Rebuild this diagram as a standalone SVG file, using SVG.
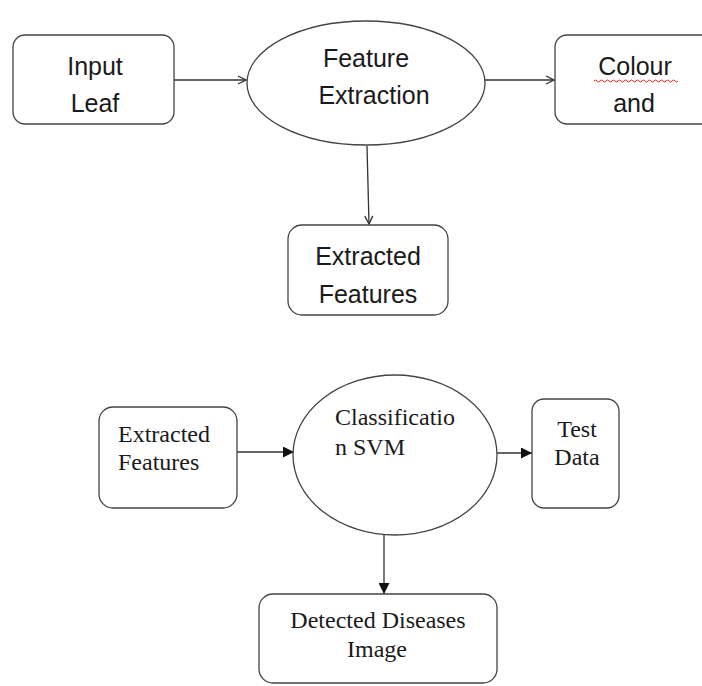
<svg xmlns="http://www.w3.org/2000/svg" width="702" height="686" viewBox="0 0 702 686">
  <style>
    .shape { fill: #ffffff; stroke: #444444; stroke-width: 1.3; }
    .link { fill: none; stroke: #333333; stroke-width: 1.3; }
    .sans { font-family: "Liberation Sans", Arial, sans-serif; font-size: 25px; fill: #1a1a1a; }
    .serif { font-family: "Liberation Serif", "Times New Roman", serif; font-size: 24px; fill: #1a1a1a; }
    .mid { text-anchor: middle; }
  </style>
  <defs>
    <marker id="open" viewBox="0 0 10 10" refX="9" refY="5" markerWidth="10" markerHeight="10" markerUnits="userSpaceOnUse" orient="auto">
      <path d="M1,1 L9,5 L1,9" fill="none" stroke="#333333" stroke-width="1.3"/>
    </marker>
    <marker id="solid" viewBox="0 0 10 10" refX="10" refY="5" markerWidth="11" markerHeight="11" markerUnits="userSpaceOnUse" orient="auto">
      <path d="M0,0 L10,5 L0,10 Z" fill="#111111"/>
    </marker>
  </defs>

  <!-- connectors -->
  <g id="connectors">
    <line class="link" x1="174" y1="80" x2="246" y2="80" marker-end="url(#open)"/>
    <line class="link" x1="485" y1="80" x2="554" y2="80" marker-end="url(#open)"/>
    <line class="link" x1="367" y1="146" x2="369" y2="224" marker-end="url(#open)"/>
    <line class="link" x1="237" y1="452" x2="294" y2="452" marker-end="url(#solid)"/>
    <line class="link" x1="497" y1="453" x2="532" y2="453" marker-end="url(#solid)"/>
    <line class="link" x1="384" y1="533" x2="384" y2="594" marker-end="url(#solid)"/>
  </g>

  <!-- upper flow -->
  <g id="input-leaf">
    <rect class="shape" x="13" y="35" width="161" height="89" rx="12"/>
    <text class="sans mid" x="95" y="75">Input</text>
    <text class="sans mid" x="95" y="112">Leaf</text>
  </g>

  <g id="feature-extraction">
    <ellipse class="shape" cx="366" cy="83" rx="119" ry="62"/>
    <text class="sans mid" x="366" y="67">Feature</text>
    <text class="sans mid" x="374" y="104">Extraction</text>
  </g>

  <g id="colour-and">
    <rect class="shape" x="555" y="35" width="170" height="89" rx="12"/>
    <text class="sans mid" x="635" y="75">Colour</text>
    <path d="M594,81 q1.5,-2 3,0 t3,0 t3,0 t3,0 t3,0 t3,0 t3,0 t3,0 t3,0 t3,0 t3,0 t3,0 t3,0 t3,0 t3,0 t3,0 t3,0 t3,0 t3,0 t3,0 t3,0 t3,0 t3,0 t3,0 t3,0 t3,0 t3,0 t3,0" fill="none" stroke="#e02020" stroke-width="1"/>
    <text class="sans mid" x="634" y="112">and</text>
  </g>

  <g id="extracted-features-top">
    <rect class="shape" x="288" y="225" width="160" height="90" rx="14"/>
    <text class="sans mid" x="368" y="265">Extracted</text>
    <text class="sans mid" x="368" y="303">Features</text>
  </g>

  <!-- lower flow -->
  <g id="extracted-features-bottom">
    <rect class="shape" x="99" y="407" width="138" height="101" rx="14"/>
    <text class="serif" x="118" y="442">Extracted</text>
    <text class="serif" x="118" y="470">Features</text>
  </g>

  <g id="classification-svm">
    <ellipse class="shape" cx="395" cy="455" rx="102" ry="80"/>
    <text class="serif" x="335" y="425">Classificatio</text>
    <text class="serif" x="335" y="455">n SVM</text>
  </g>

  <g id="test-data">
    <rect class="shape" x="532" y="399" width="87" height="109" rx="12"/>
    <text class="serif mid" x="577" y="437">Test</text>
    <text class="serif mid" x="577" y="465">Data</text>
  </g>

  <g id="detected-diseases">
    <rect class="shape" x="259" y="594" width="238" height="89" rx="14"/>
    <text class="serif mid" x="378" y="628">Detected Diseases</text>
    <text class="serif mid" x="377" y="657">Image</text>
  </g>
</svg>
